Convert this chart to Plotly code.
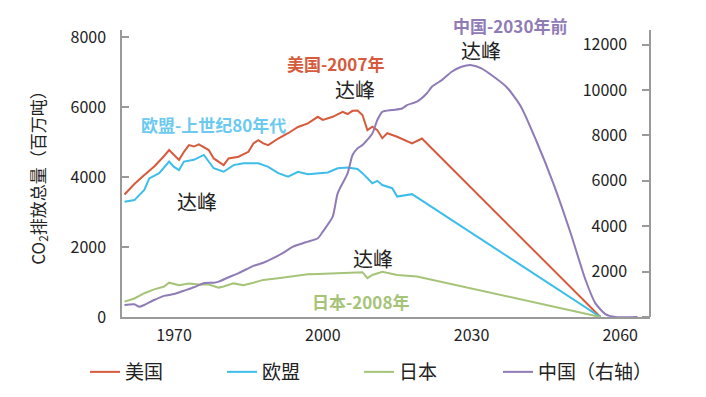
import plotly.graph_objects as go

# ---------------- data ----------------
us_years = [1960, 1962, 1964, 1966, 1968, 1969, 1970, 1971, 1972, 1973, 1974, 1975, 1977, 1978,
            1980, 1981, 1983, 1985, 1986, 1987, 1988, 1989, 1991, 1993, 1995, 1997, 1999, 2000,
            2002, 2004, 2005, 2006, 2007, 2008, 2009, 2010, 2011, 2012, 2013, 2015, 2018, 2020, 2056]
us_values = [3500, 3800, 4060, 4300, 4600, 4770, 4630, 4490, 4720, 4910, 4870, 4930, 4770, 4530,
             4340, 4530, 4580, 4720, 4960, 5050, 4960, 4910, 5100, 5250, 5430, 5530, 5720, 5630,
             5720, 5860, 5800, 5890, 5900, 5770, 5340, 5440, 5340, 5110, 5250, 5150, 4960, 5100, 0]

eu_years = [1960, 1962, 1964, 1965, 1967, 1969, 1970, 1971, 1972, 1974, 1976, 1977, 1978, 1980,
            1982, 1984, 1987, 1989, 1991, 1993, 1995, 1997, 1999, 2001, 2003, 2005, 2007, 2008,
            2010, 2011, 2012, 2014, 2015, 2017, 2018, 2056]
eu_values = [3290, 3340, 3630, 3960, 4110, 4440, 4290, 4200, 4440, 4490, 4630, 4440, 4250, 4150,
             4340, 4390, 4390, 4290, 4110, 4010, 4150, 4080, 4110, 4130, 4250, 4270, 4230, 4110,
             3820, 3890, 3770, 3680, 3440, 3490, 3510, 0]

jp_years = [1960, 1962, 1964, 1966, 1968, 1969, 1971, 1973, 1975, 1977, 1979, 1980, 1982, 1984,
            1986, 1988, 1991, 1993, 1995, 1997, 1999, 2002, 2005, 2007, 2008, 2009, 2010, 2012,
            2015, 2019, 2056]
jp_values = [440, 530, 680, 790, 870, 980, 910, 960, 930, 930, 840, 870, 960, 910,
             980, 1060, 1110, 1150, 1200, 1220, 1230, 1250, 1270, 1290, 1280, 1110, 1200, 1290,
             1200, 1160, 0]

cn_years = [1960, 1962, 1963, 1964, 1966, 1968, 1970, 1972, 1974, 1976, 1978, 1979, 1981, 1983,
            1986, 1988, 1990, 1992, 1994, 1996, 1997, 1999, 2000, 2002, 2003, 2005, 2006, 2007,
            2008, 2010, 2011, 2012, 2014, 2016, 2017, 2019, 2021, 2022, 2024, 2026, 2028, 2030,
            2032, 2037, 2040, 2043, 2046.5, 2050, 2053, 2055, 2057, 2059, 2063.5]
cn_values = [530, 560, 450, 530, 750, 930, 1010, 1160, 1310, 1490, 1510, 1560, 1750, 1930,
             2250, 2390, 2590, 2830, 3100, 3250, 3320, 3470, 3760, 4420, 5450, 6330, 7140, 7430,
             7580, 8090, 8680, 9040, 9120, 9190, 9340, 9490, 9860, 10150, 10440, 10810, 11030, 11100,
             10960, 10150, 9260, 7800, 5890, 3690, 1630, 600, 130, 0, 0]

x_ticks = [1970, 2000, 2030, 2060]
left_ticks = [0, 2000, 4000, 6000, 8000]
right_ticks = [0, 2000, 4000, 6000, 8000, 10000, 12000]
right_labels = ["", "2000", "4000", "6000", "8000", "10000", "12000"]

names = ["美国", "欧盟", "日本", "中国（右轴）"]

# ---------------- styling ----------------
C_US = "#D65A3C"
C_EU = "#3DBDE9"
C_JP = "#A5C477"
C_CN = "#8F7BB6"
AX = "#9A9A9A"
TXT = "#222222"
FONT = "Noto Sans CJK SC, Noto Sans, sans-serif"

fig = go.Figure()
fig.add_trace(go.Scatter(x=us_years, y=us_values, name=names[0], mode="lines",
                         line=dict(color=C_US, width=2), legend="legend"))
fig.add_trace(go.Scatter(x=eu_years, y=eu_values, name=names[1], mode="lines",
                         line=dict(color=C_EU, width=2), legend="legend"))
fig.add_trace(go.Scatter(x=jp_years, y=jp_values, name=names[2], mode="lines",
                         line=dict(color=C_JP, width=2), legend="legend"))
fig.add_trace(go.Scatter(x=cn_years, y=cn_values, name=names[3], mode="lines", yaxis="y2",
                         line=dict(color=C_CN, width=2, shape="spline", smoothing=0.6),
                         legend="legend2"))

def ann(x, y, text, color, size, bold, yref="y"):
    fig.add_annotation(x=x, y=y, xref="x", yref=yref, text=("<b>%s</b>" % text) if bold else text,
                       showarrow=False, xanchor="center", yanchor="middle",
                       font=dict(family=FONT, size=size, color=color))

ann(2002.6, 7257, "美国-2007年", C_US, 17, True)
ann(2006.5, 6486, "达峰", TXT, 20, False)
ann(1977.9, 5486, "欧盟-上世纪80年代", "#6CCAF0", 17, True)
ann(1974.7, 3314, "达峰", TXT, 20, False)
ann(2037.8, 1.0174, "中国-2030年前", C_CN, 17, True, yref="paper")
ann(2032.0, 11736, "达峰", TXT, 20, False, yref="y2")
ann(2010.1, 1677, "达峰", TXT, 20, False)
ann(2007.6, 437, "日本-2008年", C_JP, 17, True)

legend_common = dict(orientation="h", xref="container", yref="container", xanchor="left",
                     yanchor="middle", y=0.0446,
                     font=dict(size=19, family=FONT, color=TXT),
                     entrywidthmode="pixels", itemwidth=30,
                     bgcolor="rgba(0,0,0,0)")

fig.update_layout(
    width=690, height=381,
    margin=dict(l=114, r=48, t=22, b=72, autoexpand=False),
    paper_bgcolor="white", plot_bgcolor="white",
    font=dict(family=FONT, color=TXT),
    showlegend=True,
    legend=dict(x=77 / 690, entrywidth=92, **legend_common),
    legend2=dict(x=490 / 690, entrywidth=140, **legend_common),
    xaxis=dict(range=[1959.5, 2066], tickvals=x_ticks, ticktext=[str(v) for v in x_ticks],
               showgrid=False, zeroline=False, showline=True, linecolor=AX, linewidth=1.5,
               ticks="", automargin=False, ticklabelstandoff=3,
               tickfont=dict(size=16, family=FONT, color=TXT)),
    yaxis=dict(range=[0, 8200], tickvals=left_ticks, showgrid=False, zeroline=False,
               showline=True, linecolor=AX, linewidth=1.5, ticks="inside", ticklen=7,
               tickcolor=AX, tickwidth=1.5, ticklabelstandoff=11, automargin=False,
               tickformat="d",
               tickfont=dict(size=16, family=FONT, color=TXT),
               title=dict(text="CO<sub>2</sub>排放总量（百万吨）", standoff=21,
                          font=dict(size=17, family=FONT, color=TXT))),
    # right-hand axis: drawn as a "left-side" axis placed at the right edge so that its
    # labels sit to the left of the axis line, as in the reference
    yaxis2=dict(range=[0, 12648], tickvals=right_ticks, ticktext=right_labels,
                overlaying="y", side="left", anchor="free", position=1.0,
                showgrid=False, zeroline=False, showline=True, linecolor=AX, linewidth=1.5,
                ticks="outside", ticklen=7, tickcolor=AX, tickwidth=1.5,
                ticklabelstandoff=12, automargin=False,
                tickfont=dict(size=16, family=FONT, color=TXT)),
)

fig.write_html("out.html")
